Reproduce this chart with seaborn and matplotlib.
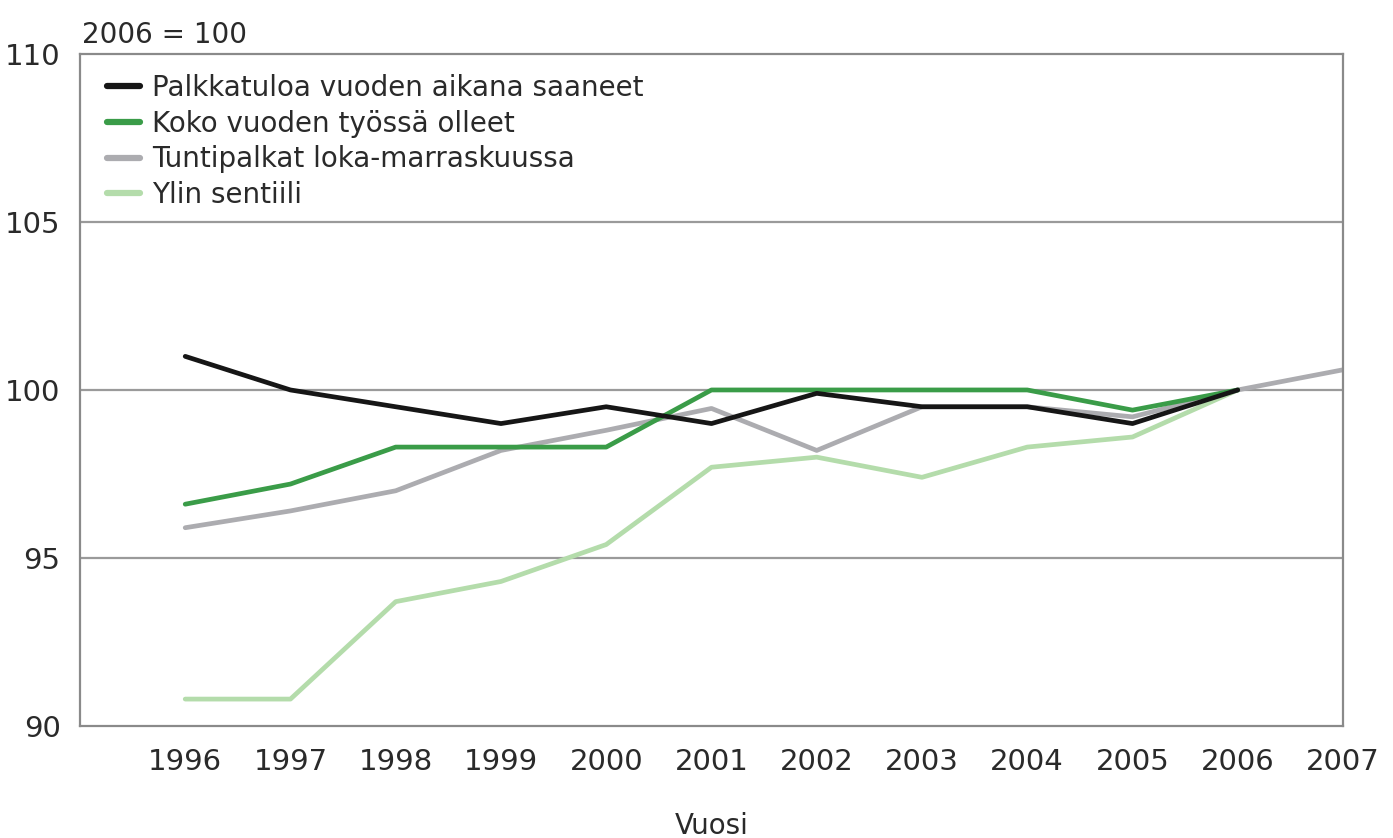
import pandas as pd
import matplotlib.pyplot as plt
import seaborn as sns

# Index values, 2006 = 100
years = list(range(1996, 2008))
palkkatulo = [101.0, 100.0, 99.5, 99.0, 99.5, 99.0, 99.9, 99.5, 99.5, 99.0, 100.0, None]
koko_vuosi = [96.6, 97.2, 98.3, 98.3, 98.3, 100.0, 100.0, 100.0, 100.0, 99.4, 100.0, None]
tuntipalkat = [95.9, 96.4, 97.0, 98.2, 98.8, 99.45, 98.2, 99.5, 99.5, 99.2, 100.0, 100.6]
ylin_sentiili = [90.8, 90.8, 93.7, 94.3, 95.4, 97.7, 98.0, 97.4, 98.3, 98.6, 100.0, None]

series_names = ["Palkkatuloa vuoden aikana saaneet", "Koko vuoden työssä olleet",
                "Tuntipalkat loka-marraskuussa", "Ylin sentiili"]
colors = ["#161616", "#3a9c48", "#acacb0", "#b4dcab"]

frames = []
for name, vals in zip(series_names, [palkkatulo, koko_vuosi, tuntipalkat, ylin_sentiili]):
    frames.append(pd.DataFrame({"Vuosi": years, "arvo": vals, "sarja": name}))
df = pd.concat(frames).dropna()

sns.set_style("white")
plt.rcParams["font.family"] = ["DejaVu Sans"]

fig = plt.figure(figsize=(13.93, 8.38), dpi=100)
ax = fig.add_axes([0.0574, 0.1337, 0.9067, 0.8019])

# draw later series first so the black line ends up on top
for name in series_names[::-1]:
    sns.lineplot(data=df[df["sarja"] == name], x="Vuosi", y="arvo", ax=ax,
                 color=colors[series_names.index(name)], linewidth=3.4, label=name)

ax.set_xlim(1995, 2007)
ax.set_ylim(90, 110)
ax.set_xticks(years)
ax.set_yticks([90, 95, 100, 105, 110])
ax.tick_params(axis="both", length=0, labelsize=21, colors="#2a2a2a")
ax.tick_params(axis="x", pad=16)
ax.tick_params(axis="y", pad=14)
for y in [95, 100, 105]:
    ax.axhline(y, color="#9a9a9a", linewidth=1.6, zorder=0)
for s in ax.spines.values():
    s.set_color("#8a8a8a")
    s.set_linewidth(1.6)

ax.set_xlabel("Vuosi", fontsize=20, color="#2a2a2a", labelpad=26)
ax.set_ylabel("")
ax.text(0.0015, 1.008, "2006 = 100", transform=ax.transAxes, fontsize=20,
        color="#2a2a2a", ha="left", va="bottom")

handles, labels = ax.get_legend_handles_labels()
hmap = dict(zip(labels, handles))
leg = ax.legend([hmap[n] for n in series_names], series_names, loc="upper left",
                frameon=False, fontsize=20, handlelength=1.2, handletextpad=0.42,
                labelspacing=0.28, borderaxespad=0, borderpad=0,
                bbox_to_anchor=(0.0214, 0.9706))
for line in leg.get_lines():
    line.set_linewidth(4.5)
for t in leg.get_texts():
    t.set_color("#2a2a2a")

fig.savefig("out.png", dpi=100)
plt.close(fig)
